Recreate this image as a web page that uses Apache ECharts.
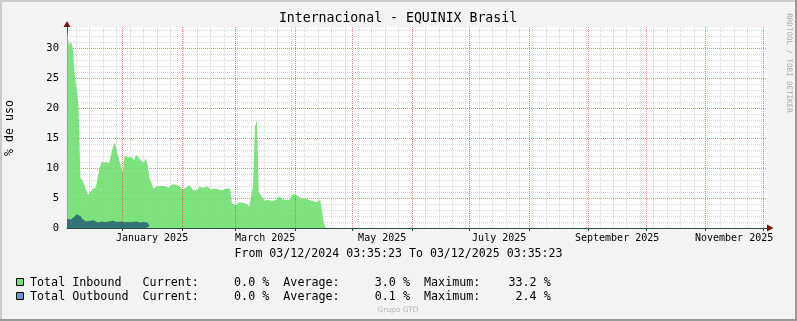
<!DOCTYPE html>
<html><head><meta charset="utf-8">
<script src="https://cdn.jsdelivr.net/npm/echarts@6/dist/echarts.min.js"></script>
<style>html,body{margin:0;padding:0;background:#f3f3f3}#c{width:797px;height:321px}</style>
</head><body><div id="c"></div>
<script>
// ---- data ----
const title = 'Internacional - EQUINIX Brasil';
const yName = '% de uso';
const startTime = '2024-12-03T03:35:23Z';
const endTime = '2025-12-03T03:35:23Z';
const sampleStepHours = 24; // one sample per day from startTime
const inbound = [33.2,30.5,31.1,30.0,25.5,23.3,20.3,8.4,7.9,7.3,6.3,5.5,5.7,6.4,6.6,6.8,6.8,10.0,10.9,11.0,
  11.0,11.1,10.8,12.3,13.6,14.2,12.8,11.6,11.8,9.2,12.0,12.0,11.8,11.6,11.8,11.3,12.2,11.9,11.5,11.2,
  10.8,11.6,10.6,8.2,7.6,6.6,6.7,6.9,6.9,7.0,7.2,7.0,6.9,6.7,6.6,7.3,7.4,7.2,7.1,6.9,
  6.4,6.3,6.7,6.9,7.1,6.8,6.3,6.2,6.3,6.9,6.8,6.7,6.8,6.9,6.6,6.4,6.5,6.6,6.5,6.4,
  6.3,6.3,6.4,6.6,6.3,6.6,4.1,4.0,3.8,3.6,4.3,4.3,4.2,4.5,3.9,3.5,3.5,7.0,16.9,17.9,
  6.0,5.6,5.0,4.6,4.5,4.7,4.6,4.5,4.6,4.7,4.5,5.3,4.8,4.8,4.7,4.8,4.7,4.6,5.7,5.6,
  5.4,5.1,4.9,4.8,4.9,4.8,4.7,4.5,4.5,4.4,4.3,4.2,4.7,4.8,0.8,0];
const outbound = [1.6,1.6,1.4,1.5,1.9,2.3,2.4,2.0,1.5,1.2,1.1,1.0,1.2,1.5,1.3,1.0,0.9,1.0,1.1,1.1,
  1.0,1.0,1.1,1.1,1.2,1.1,1.0,1.1,1.1,1.0,1.0,1.1,1.0,1.1,1.0,1.0,1.1,1.0,0.9,1.0,
  1.0,1.0,0.9,0.3,0];
const monthLabels = ['January 2025','March 2025','May 2025','July 2025','September 2025','November 2025'];
const labelMonths = ['2025-01','2025-03','2025-05','2025-07','2025-09','2025-11'];
const monthStarts = ['2025-01-01','2025-02-01','2025-03-01','2025-04-01','2025-05-01','2025-06-01',
  '2025-07-01','2025-08-01','2025-09-01','2025-10-01','2025-11-01','2025-12-01'];
const legendRows = [
  {name:'Total Inbound ', current:'0.0', average:'3.0', maximum:'33.2'},
  {name:'Total Outbound', current:'0.0', average:'0.1', maximum:' 2.4'}
];
const period = 'From 03/12/2024 03:35:23 To 03/12/2025 03:35:23';

// ---- build ----
const t0 = Date.parse(startTime), t1 = Date.parse(endTime);
const step = sampleStepHours*3600000;
const inData = inbound.map((v,i)=>[t0+i*step, v]);
const outData = outbound.map((v,i)=>[t0+i*step, v]);
const msTs = monthStarts.map(s=>Date.parse(s+'T00:00:00Z'));
const labelTs = labelMonths.map(m=>{
  const a = Date.parse(m+'-01T00:00:00Z');
  const d = new Date(a); const b = Date.UTC(d.getUTCFullYear(), d.getUTCMonth()+1, 1);
  return (a+b)/2;
});
const sundays = [];
{ let d = new Date(Date.UTC(2024,11,3)); while (d.getUTCDay()!==0) d = new Date(d.getTime()+86400000);
  for (let t=d.getTime(); t<t1; t+=7*86400000) sundays.push(t); }

const MINOR = 'rgba(150,150,150,0.35)';
const MAJOR = 'rgba(240,50,50,0.6)';
const mono = 'DejaVu Sans Mono';
const chart = echarts.init(document.getElementById('c'), null, {renderer:'canvas'});
const legendGraphics = [];
legendRows.forEach((r,i)=>{
  const y = 278 + i*14;
  legendGraphics.push({type:'rect', shape:{x:16.5,y:y+0.5,width:7,height:7},
    style:{fill: i===0?'#77dd77':'#6f8fcc', stroke:'#000', lineWidth:1}});
  legendGraphics.push({type:'text', x:30, y:y+4.5, style:{
    text: r.name+'  Current:     '+r.current+' %  Average:     '+r.average+' %  Maximum:    '+r.maximum+' %',
    font:'11.7px "'+mono+'"', fill:'#000', verticalAlign:'middle', textAlign:'left'}});
});

chart.setOption({
  animation:false,
  backgroundColor:'#f3f3f3',
  grid:{left:67, top:27, width:700, height:201, show:true, backgroundColor:'#fff', borderWidth:0},
  xAxis:[
    {type:'value', min:t0, max:t1, scale:true, z:3,
     axisLine:{show:true, lineStyle:{color:'#2c4d43', width:1}},
     axisTick:{show:true, customValues:msTs, length:3, lineStyle:{color:'#2c4d43'}},
     splitLine:{show:true, lineStyle:{color:MAJOR, type:[1,1], width:1}},
     axisLabel:{customValues:labelTs, margin:5, fontFamily:mono, fontSize:10, color:'#000',
       formatter:(v)=>{ const i = labelTs.findIndex(t=>Math.abs(t-v)<3600000); return i>=0?monthLabels[i]:''; }}
    },
    {type:'value', min:t0, max:t1, scale:true, position:'bottom', z:1,
     axisLine:{show:false}, axisLabel:{show:false},
     axisTick:{show:false, customValues:sundays},
     splitLine:{show:true, lineStyle:{color:MINOR, type:[1,1], width:1}}
    }
  ],
  yAxis:{type:'value', min:0, max:33.5, interval:1,
    axisLine:{show:true, lineStyle:{color:'#2c4d43', width:1}},
    axisTick:{show:false},
    splitLine:{show:true, showMaxLine:false, lineStyle:{color:[MAJOR,MINOR,MINOR,MINOR,MINOR], type:[1,1], width:1}},
    axisLabel:{margin:8, fontFamily:mono, fontSize:10.5, color:'#000', showMaxLabel:false,
      formatter:(v)=> (v%5===0 ? String(v) : '')}
  },
  series:[
    {type:'line', name:'Total Inbound', data:inData, showSymbol:false, symbol:'none',
     lineStyle:{width:0}, areaStyle:{color:'#67dd67', opacity:0.85}, z:2},
    {type:'line', name:'Total Outbound', data:outData, showSymbol:false, symbol:'none',
     lineStyle:{width:0}, areaStyle:{color:'#2f6e74', opacity:0.95}, z:3}
  ],
  graphic:[
    {type:'text', x:398, y:19, style:{text:title, font:'13.2px "'+mono+'"', fill:'#000', textAlign:'center', verticalAlign:'middle'}},
    {type:'text', x:10, y:128, rotation:Math.PI/2, style:{text:yName, font:'11.6px "'+mono+'"', fill:'#000', textAlign:'center', verticalAlign:'middle'}},
    {type:'text', x:789, y:63, rotation:-Math.PI/2, style:{text:'RRDTOOL / TOBI OETIKER', font:'7.5px "'+mono+'"', fill:'#aaa', textAlign:'center', verticalAlign:'middle'}},
    {type:'text', x:398.5, y:254, style:{text:period, font:'11.6px "'+mono+'"', fill:'#000', textAlign:'center', verticalAlign:'middle'}},
    {type:'text', x:398, y:310, style:{text:'Grupo GTD', font:'7.5px "DejaVu Sans"', fill:'#b5b5b5', textAlign:'center', verticalAlign:'middle'}},
    {type:'polygon', z:100, shape:{points:[[63.5,27],[70.5,27],[67,21]]}, style:{fill:'#7f1010'}},
    {type:'polygon', z:100, shape:{points:[[767,224.5],[767,231.5],[773.5,228]]}, style:{fill:'#7f1010'}},
    {type:'rect', z:100, shape:{x:0,y:0,width:797,height:2}, style:{fill:'#cbcbcb'}},
    {type:'rect', z:100, shape:{x:0,y:0,width:2,height:321}, style:{fill:'#cbcbcb'}},
    {type:'rect', z:100, shape:{x:0,y:319,width:797,height:2}, style:{fill:'#999'}},
    {type:'rect', z:100, shape:{x:795,y:0,width:2,height:321}, style:{fill:'#999'}}
  ].concat(legendGraphics)
});
</script></body></html>
